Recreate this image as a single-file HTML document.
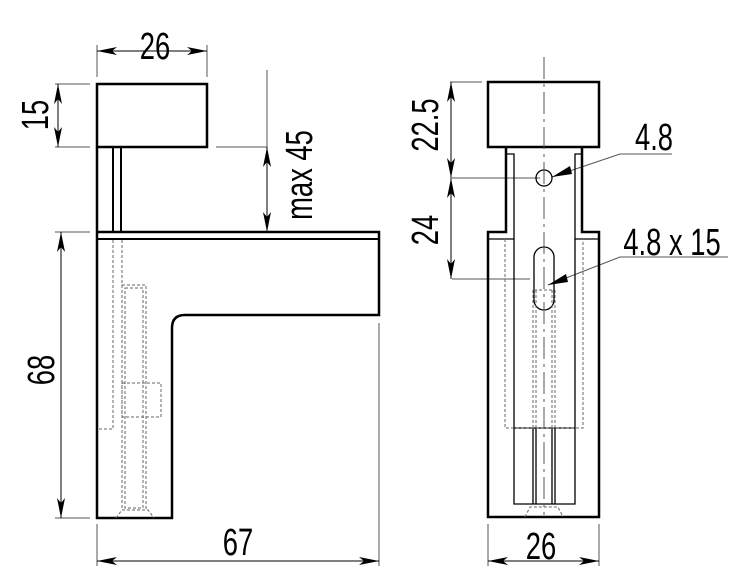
<!DOCTYPE html>
<html><head><meta charset="utf-8"><style>html,body{margin:0;padding:0;background:#fff}svg{display:block}</style></head><body>
<svg width="740" height="580" viewBox="0 0 740 580" xmlns="http://www.w3.org/2000/svg">
<defs>
<marker id="a" viewBox="0 0 20 8" refX="20" refY="4" markerWidth="20" markerHeight="8" markerUnits="userSpaceOnUse" orient="auto-start-reverse"><path d="M0,0 L20,4 L0,8 L5,4 Z" fill="#000"/></marker>
</defs>
<g font-family="Liberation Sans, sans-serif" font-size="38" fill="#000">
<g transform="translate(155,59) scale(0.72,1)"><text text-anchor="middle">26</text></g>
<g transform="translate(48,115) rotate(-90) scale(0.72,1)"><text text-anchor="middle">15</text></g>
<g transform="translate(312,175) rotate(-90) scale(0.72,1)"><text text-anchor="middle">max 45</text></g>
<g transform="translate(54,370) rotate(-90) scale(0.72,1)"><text text-anchor="middle">68</text></g>
<g transform="translate(238,555) scale(0.72,1)"><text text-anchor="middle">67</text></g>
<g transform="translate(438,125) rotate(-90) scale(0.72,1)"><text text-anchor="middle">22.5</text></g>
<g transform="translate(438,230) rotate(-90) scale(0.72,1)"><text text-anchor="middle">24</text></g>
<g transform="translate(654,150) scale(0.72,1)"><text text-anchor="middle">4.8</text></g>
<g transform="translate(672,255) scale(0.72,1)"><text text-anchor="middle">4.8 x 15</text></g>
<g transform="translate(541,559) scale(0.72,1)"><text text-anchor="middle">26</text></g>
</g>
<!-- dimension lines -->
<g stroke="#555" stroke-width="1" fill="none">
<line x1="97" y1="45" x2="97" y2="77"/><line x1="207" y1="45" x2="207" y2="77"/>
<line x1="55" y1="84" x2="90" y2="84"/><line x1="55" y1="147" x2="90" y2="147"/>
<line x1="267" y1="70" x2="267" y2="232"/><line x1="216" y1="147" x2="267" y2="147"/>
<line x1="55" y1="232" x2="90" y2="232"/><line x1="55" y1="518" x2="90" y2="518"/>
<line x1="97" y1="524" x2="97" y2="566"/><line x1="379" y1="323" x2="379" y2="566"/>
<line x1="450" y1="82" x2="482" y2="82"/><line x1="452" y1="178" x2="540" y2="178"/><line x1="452" y1="279" x2="530" y2="279"/>
<line x1="488" y1="524" x2="488" y2="566"/><line x1="599" y1="524" x2="599" y2="566"/>
<polyline points="552,177 620,154 672,154"/><polyline points="548,285 620,257 728,257"/>
</g>
<g stroke="#000" stroke-width="1" fill="none" marker-start="url(#a)" marker-end="url(#a)">
<line x1="97" y1="51" x2="207" y2="51"/>
<line x1="58" y1="84" x2="58" y2="147"/>
<line x1="267" y1="147" x2="267" y2="232"/>
<line x1="61" y1="232" x2="61" y2="518"/>
<line x1="97" y1="561" x2="379" y2="561"/>
<line x1="451" y1="82" x2="451" y2="178"/>
<line x1="451" y1="178" x2="451" y2="279"/>
<line x1="488" y1="561" x2="599" y2="561"/>
</g>
<g fill="#000"><path d="M552,177 L570,166 L572,174 Z"/><path d="M548,285 L566,274 L568,282 Z"/></g>
<!-- left view -->
<g stroke="#000" stroke-width="2.5" fill="none">
<rect x="97" y="84" width="110" height="63"/>
<path d="M97,147 V518 H172 V328 Q172,315 185,315 H379 V232 H97"/>
<line x1="97" y1="239" x2="379" y2="239" stroke-width="2"/>
<line x1="113" y1="147" x2="113" y2="232" stroke-width="2"/>
<line x1="121" y1="147" x2="121" y2="232" stroke-width="2"/>
</g>
<g stroke="#666" stroke-width="1" fill="none" stroke-dasharray="3,2">
<path d="M113,240 V429 H97"/><line x1="122" y1="240" x2="122" y2="429"/>
<rect x="122" y="285" width="24" height="225"/><rect x="125" y="288" width="18" height="220"/>
<rect x="122" y="383" width="39" height="34"/>
<path d="M116,518 L122,510 H148 L154,518"/>
</g>
<!-- right view -->
<g stroke="#000" stroke-width="2.5" fill="none">
<rect x="488" y="82" width="111" height="65"/>
<path d="M506,147 V232 H488 V517 H599 V232 H582 V147"/>
</g>
<g stroke="#000" stroke-width="1.3" fill="none">
<path d="M488,239 H514 V154 H506"/><path d="M599,239 H575 V154 H582"/>
<path d="M514,239 V504 H575 V239"/>
<line x1="514" y1="428" x2="575" y2="428"/>
<line x1="533" y1="428" x2="533" y2="504"/><line x1="536" y1="428" x2="536" y2="504"/>
<line x1="552" y1="428" x2="552" y2="504"/><line x1="555" y1="428" x2="555" y2="504"/>
<circle cx="544" cy="178" r="8"/>
<rect x="534" y="247" width="20" height="63" rx="10"/>
</g>
<g stroke="#666" stroke-width="1" fill="none" stroke-dasharray="3,2">
<path d="M505,239 V428 H583 V239"/>
<line x1="533" y1="290" x2="533" y2="428"/><line x1="536" y1="290" x2="536" y2="428"/>
<line x1="552" y1="290" x2="552" y2="428"/><line x1="555" y1="290" x2="555" y2="428"/>
<line x1="534" y1="290" x2="554" y2="290"/>
<path d="M525,517 L530,507 H558 L563,517"/>
</g>
<line x1="544" y1="57" x2="544" y2="515" stroke="#555" stroke-width="1" stroke-dasharray="22,5,3,5"/>
</svg>
</body></html>
